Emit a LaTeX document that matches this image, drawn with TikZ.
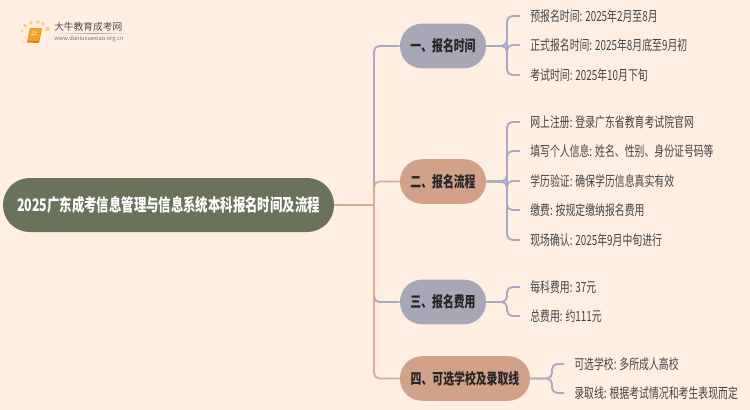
\documentclass[tikz,border=0pt]{standalone}
\usepackage{fontspec}
\setmainfont{Noto Sans CJK SC}
\definecolor{bgc}{HTML}{FFEFE3}
\definecolor{rootc}{HTML}{6A7259}
\definecolor{lav}{HTML}{A8A7B6}
\definecolor{sal}{HTML}{D1A189}
\definecolor{txt}{HTML}{444444}
\definecolor{lavl}{HTML}{A9ABC4}
\definecolor{sall}{HTML}{DDAA90}
\definecolor{orng}{HTML}{F3A32C}
\definecolor{orngd}{HTML}{DE7F1E}
\definecolor{yel}{HTML}{FBD070}
\tikzset{
 x=0.75pt,y=-0.75pt,
 rootbox/.style={rounded corners=20pt,fill=rootc,minimum width=248.25pt,minimum height=40.5pt,inner sep=0pt,text=white,font=\fontsize{13pt}{14pt}\selectfont\bfseries},
 branchbox/.style={rounded corners=16.5pt,fill=#1,minimum height=33.5pt,inner sep=0pt,text=black!85,font=\fontsize{11.4pt}{14pt}\selectfont\bfseries},
 leaf/.style={anchor=west,inner sep=0pt,text=txt,font=\fontsize{10.5pt}{13pt}\selectfont},
 lavline/.style={draw=lavl,line width=1.4pt,rounded corners=4pt},
 salline/.style={draw=sall,line width=1.4pt,rounded corners=4pt},
}
\newcommand{\sq}[1]{\scalebox{0.705}[1]{#1}}
\newcommand{\sqr}[1]{\scalebox{0.715}[1]{#1}}
\newcommand{\sqb}[1]{\scalebox{0.715}[1]{#1}}
\begin{document}
\begin{tikzpicture}
\fill[bgc] (0,0) rectangle (750,410);
\useasboundingbox (0,0) rectangle (750,410);
% logo
\foreach \p/\r in {{25,25.5}/1.8,{31,22.5}/1.9,{38,22}/1.9,{43,24}/1.9,{47.5,29}/2.2,{22,31}/1.3,{25,37}/.9,{23,42}/.9}{\fill[yel] (\p) circle (\r);}
\fill[orngd] (30,28) -- (42,28.5) -- (39,43) -- (27,42.5) -- cycle;
\fill[orng] (30.5,28) -- (41.5,28.5) -- (38.6,41) -- (27.5,40.5) -- cycle;
\draw[white!80!orng,line width=.5pt] (32,32) -- (37,32.2) (31.5,34.5) -- (36.5,34.7);
\shade[left color=bgc,right color=bgc,middle color=black!35] (54,33.2) rectangle (132,34);
\node[anchor=west,inner sep=0pt,text=black!70,font=\fontsize{7.3pt}{9pt}\selectfont] (logoa) at (54,27) {大牛教育成考网};
\node[anchor=west,inner sep=0pt,text=black!55,font=\fontsize{4.3pt}{6pt}\selectfont] (logob) at (54,38.5) {www.daniuxuexiao.org.cn};
% nodes
\node[rootbox] (root) at (168.5,205) {\sqr{2025广东成考信息管理与信息系统本科报名时间及流程}};
\node[branchbox=lav,minimum width=64.5pt] (b1) at (443,46) {\sqb{一、报名时间}};
\node[branchbox=sal,minimum width=64.5pt] (b2) at (443,181.5) {\sqb{二、报名流程}};
\node[branchbox=lav,minimum width=64.5pt] (b3) at (443,302) {\sqb{三、报名费用}};
\node[branchbox=sal,minimum width=97.5pt] (b4) at (465,378.5) {\sqb{四、可选学校及录取线}};
\foreach \n/\y/\s in {a/16/预报名时间: 2025年2月至8月,b/45/正式报名时间: 2025年8月底至9月初,c/75/考试时间: 2025年10月下旬,d/122/网上注册: 登录广东省教育考试院官网,e/151/填写个人信息: 姓名、性别、身份证号码等,f/181/学历验证: 确保学历信息真实有效,g/210/缴费: 按规定缴纳报名费用,h/240/现场确认: 2025年9月中旬进行,i/287/每科费用: 37元,j/316/总费用: 约111元}{
 \node[leaf] (\n) at (530,\y) {\sq{\s}};
}
\node[leaf] (k) at (574,364) {\sq{可选学校: 多所成人高校}};
\node[leaf] (l) at (574,393) {\sq{录取线: 根据考试情况和考生表现而定}};
% junctions
\coordinate (t) at (374,205);
\coordinate (j1) at (507,46);
\coordinate (j2) at (507,181.5);
\coordinate (j3) at (507,302);
\coordinate (j4) at (552,378.5);
% connectors
\draw[lavline] (t) |- (b1.west);
\draw[lavline] (t) |- (b3.west);
\draw[salline] (t) |- (b2.west);
\draw[salline] (t) |- (b4.west);
\draw[salline] (root.east) -- (t);
\foreach \b/\j/\n in {b1/j1/a,b1/j1/b,b1/j1/c,b2/j2/d,b2/j2/e,b2/j2/f,b2/j2/g,b2/j2/h,b3/j3/i,b3/j3/j,b4/j4/k,b4/j4/l}{
 \draw[lavline] (\b.east) -- (\j) |- ([xshift=-7.5pt]\n.west);
}
\end{tikzpicture}
\end{document}
